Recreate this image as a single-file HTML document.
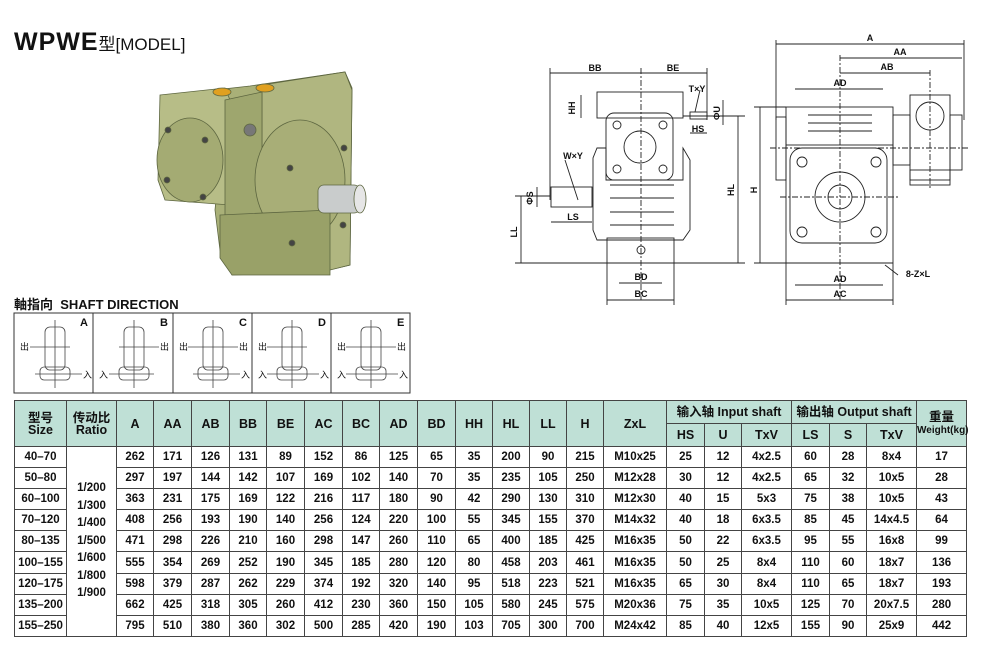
<!DOCTYPE html>
<html><head><meta charset="utf-8">
<style>
body{margin:0;width:988px;height:662px;background:#fff;position:relative;overflow:hidden;font-family:"Liberation Sans","Noto Sans CJK SC",sans-serif;color:#111}
.title{position:absolute;left:14px;top:28px;white-space:nowrap}
.title b{font-size:25px;font-weight:bold;letter-spacing:1px}
.title span{font-size:17px}
.sd{position:absolute;left:14px;top:294px;font-size:13px;font-weight:bold}
table{position:absolute;left:14px;top:400px;border-collapse:collapse;table-layout:fixed;width:952px}
td{border:1.5px solid #444;text-align:center;font-size:11.5px;font-weight:bold;padding:0;line-height:12px}
tr.d{height:21.1px}
tr.h{height:23px}
tr.h td,tr.h2 td{background:#bfe0d6;font-size:12.5px}
tr.h2{height:23px}
.rat{font-size:11.5px;line-height:17.5px;vertical-align:middle}
</style></head><body>
<div class="title"><b>WPWE</b><span>型[MODEL]</span></div>

<svg style="position:absolute;left:0;top:0" width="988" height="400" xmlns="http://www.w3.org/2000/svg">
<g stroke="#5d6640" stroke-width="0.8">
<polygon points="225,110 215,90 250,86 345,72 352,88 350,265 320,272 232,275 220,250 215,210" fill="#a9b078"/>
<polygon points="160,95 225,88 230,100 230,205 165,200 158,180" fill="#b7bd87"/>
<polygon points="262,85 345,72 352,90 350,265 330,270 262,270" fill="#b0b680"/>
<polygon points="225,100 262,92 262,270 225,255" fill="#9ea66e"/>
<ellipse cx="190" cy="160" rx="33" ry="42" fill="#a4ab73"/>
<ellipse cx="300" cy="180" rx="45" ry="60" fill="#a8ae77"/>
<polygon points="220,215 330,210 330,275 232,275 220,258" fill="#99a168"/>
<rect x="318" y="185" width="42" height="28" rx="6" fill="#c9cccc"/>
<ellipse cx="360" cy="199" rx="6" ry="14" fill="#e6e6e6"/>
<ellipse cx="222" cy="92" rx="9" ry="4" fill="#e0a020"/>
<ellipse cx="265" cy="88" rx="9" ry="4" fill="#e0a020"/>
<circle cx="250" cy="130" r="6" fill="#777"/>
<circle cx="168" cy="130" r="3" fill="#444"/><circle cx="205" cy="140" r="3" fill="#444"/><circle cx="167" cy="180" r="3" fill="#444"/><circle cx="203" cy="197" r="3" fill="#444"/>
<circle cx="290" cy="168" r="3" fill="#444"/><circle cx="344" cy="148" r="3" fill="#444"/><circle cx="292" cy="243" r="3" fill="#444"/><circle cx="343" cy="225" r="3" fill="#444"/>
</g>
<g fill="none" stroke="#222" stroke-width="0.9">
<line x1="550" y1="73" x2="707" y2="73"/><line x1="550" y1="68" x2="550" y2="200"/><line x1="707" y1="68" x2="707" y2="120"/><line x1="641" y1="68" x2="641" y2="300" stroke-dasharray="6,2,2,2"/>
<rect x="597" y="92" width="86" height="26"/>
<rect x="606" y="113" width="67" height="67" rx="8"/>
<circle cx="640" cy="147" r="16"/><circle cx="617" cy="125" r="4"/><circle cx="663" cy="125" r="4"/><circle cx="617" cy="169" r="4"/><circle cx="663" cy="169" r="4"/>
<polygon points="597,148 606,148 606,180 683,180 683,148 690,160 690,230 683,240 597,240 593,230 593,158"/>
<line x1="610" y1="185" x2="674" y2="185"/><line x1="610" y1="198" x2="674" y2="198"/><line x1="610" y1="212" x2="674" y2="212"/><line x1="610" y1="225" x2="674" y2="225"/>
<rect x="607" y="238" width="67" height="25"/><circle cx="641" cy="250" r="4"/>
<rect x="551" y="187" width="41" height="20"/>
<rect x="690" y="112" width="17" height="7"/>
<line x1="515" y1="263" x2="745" y2="263"/>
<line x1="738" y1="116" x2="738" y2="263"/><line x1="683" y1="116" x2="745" y2="116"/>
<line x1="521" y1="196" x2="521" y2="263"/><line x1="515" y1="196" x2="550" y2="196"/>
<line x1="551" y1="222" x2="592" y2="222"/><line x1="537" y1="187" x2="537" y2="207"/>
<line x1="619" y1="283" x2="662" y2="283"/><line x1="607" y1="300" x2="674" y2="300"/>
<line x1="607" y1="263" x2="607" y2="305"/><line x1="674" y1="263" x2="674" y2="305"/>
<line x1="581" y1="95" x2="581" y2="118"/><line x1="723" y1="100" x2="723" y2="125"/>
<line x1="690" y1="133" x2="707" y2="133"/>
<line x1="565" y1="160" x2="578" y2="200"/><line x1="700" y1="90" x2="695" y2="112"/>
</g>
<g font-size="9" font-weight="bold" fill="#111" text-anchor="middle">
<text x="595" y="71">BB</text><text x="673" y="71">BE</text><text x="575" y="108" transform="rotate(-90 575 108)">HH</text>
<text x="697" y="92">T×Y</text><text x="720" y="113" transform="rotate(-90 720 113)">ΦU</text><text x="698" y="132">HS</text>
<text x="573" y="159">W×Y</text><text x="734" y="190" transform="rotate(-90 734 190)">HL</text>
<text x="533" y="198" transform="rotate(-90 533 198)">ΦS</text><text x="573" y="220">LS</text>
<text x="517" y="232" transform="rotate(-90 517 232)">LL</text>
<text x="641" y="280">BD</text><text x="641" y="297">BC</text>
</g>
<g fill="none" stroke="#222" stroke-width="0.9">
<line x1="776" y1="44" x2="964" y2="44"/><line x1="776" y1="40" x2="776" y2="120"/><line x1="964" y1="40" x2="964" y2="120"/>
<line x1="840" y1="58" x2="962" y2="58"/><line x1="840" y1="73" x2="930" y2="73"/><line x1="840" y1="55" x2="840" y2="300" stroke-dasharray="6,2,2,2"/>
<line x1="795" y1="89" x2="883" y2="89"/><line x1="930" y1="70" x2="930" y2="190" stroke-dasharray="6,2,2,2"/>
<rect x="786" y="107" width="107" height="38"/>
<rect x="776" y="117" width="10" height="63"/>
<rect x="790" y="148" width="97" height="95" rx="12"/>
<circle cx="840" cy="197" r="25"/><circle cx="840" cy="197" r="12"/>
<circle cx="802" cy="162" r="5"/><circle cx="876" cy="162" r="5"/><circle cx="802" cy="232" r="5"/><circle cx="876" cy="232" r="5"/>
<line x1="786" y1="145" x2="786" y2="263"/><line x1="893" y1="145" x2="893" y2="263"/><line x1="786" y1="263" x2="893" y2="263"/>
<line x1="808" y1="115" x2="872" y2="115"/><line x1="808" y1="123" x2="872" y2="123"/><line x1="808" y1="131" x2="872" y2="131"/>
<rect x="910" y="95" width="40" height="85"/><rect x="893" y="115" width="17" height="50"/><rect x="950" y="115" width="12" height="55"/>
<circle cx="930" cy="116" r="14"/><rect x="910" y="170" width="40" height="15"/>
<line x1="760" y1="107" x2="760" y2="263"/><line x1="754" y1="107" x2="786" y2="107"/><line x1="754" y1="263" x2="786" y2="263"/>
<line x1="795" y1="285" x2="883" y2="285"/><line x1="786" y1="300" x2="893" y2="300"/>
<line x1="786" y1="263" x2="786" y2="305"/><line x1="893" y1="263" x2="893" y2="305"/>
<line x1="770" y1="148" x2="970" y2="148" stroke-dasharray="6,2,2,2"/><line x1="780" y1="197" x2="900" y2="197" stroke-dasharray="6,2,2,2"/>
<line x1="885" y1="265" x2="898" y2="275"/>
</g>
<g font-size="9" font-weight="bold" fill="#111" text-anchor="middle">
<text x="870" y="41">A</text><text x="900" y="55">AA</text><text x="887" y="70">AB</text><text x="840" y="86">AD</text>
<text x="757" y="190" transform="rotate(-90 757 190)">H</text>
<text x="840" y="282">AD</text><text x="840" y="297">AC</text><text x="918" y="277">8-Z×L</text>
</g>
<rect x="14" y="313" width="396" height="80" fill="none" stroke="#333" stroke-width="1"/>
<g stroke="#333" stroke-width="1"><line x1="93" y1="313" x2="93" y2="393"/><line x1="173" y1="313" x2="173" y2="393"/><line x1="252" y1="313" x2="252" y2="393"/><line x1="331" y1="313" x2="331" y2="393"/></g>
<g font-size="11" font-weight="bold" fill="#111">
<text x="80" y="326">A</text><text x="160" y="326">B</text><text x="239" y="326">C</text><text x="318" y="326">D</text><text x="397" y="326">E</text>
</g>
<g fill="none" stroke="#444" stroke-width="0.8">
<g><rect x="45" y="327" width="20" height="43" rx="5"/><rect x="40" y="367" width="30" height="13" rx="4"/><line x1="55" y1="320" x2="55" y2="388"/><line x1="30" y1="347" x2="70" y2="347"/><line x1="35" y1="374" x2="82" y2="374"/></g>
<g transform="translate(79,0)"><rect x="45" y="327" width="20" height="43" rx="5"/><rect x="40" y="367" width="30" height="13" rx="4"/><line x1="55" y1="320" x2="55" y2="388"/><line x1="40" y1="347" x2="80" y2="347"/><line x1="30" y1="374" x2="75" y2="374"/></g>
<g transform="translate(158,0)"><rect x="45" y="327" width="20" height="43" rx="5"/><rect x="40" y="367" width="30" height="13" rx="4"/><line x1="55" y1="320" x2="55" y2="388"/><line x1="30" y1="347" x2="80" y2="347"/><line x1="35" y1="374" x2="82" y2="374"/></g>
<g transform="translate(237,0)"><rect x="45" y="327" width="20" height="43" rx="5"/><rect x="40" y="367" width="30" height="13" rx="4"/><line x1="55" y1="320" x2="55" y2="388"/><line x1="30" y1="347" x2="70" y2="347"/><line x1="30" y1="374" x2="82" y2="374"/></g>
<g transform="translate(316,0)"><rect x="45" y="327" width="20" height="43" rx="5"/><rect x="40" y="367" width="30" height="13" rx="4"/><line x1="55" y1="320" x2="55" y2="388"/><line x1="30" y1="347" x2="80" y2="347"/><line x1="30" y1="374" x2="82" y2="374"/></g>
</g>
<g font-size="9" fill="#111">
<text x="20" y="350">出</text><text x="83" y="378">入</text>
<text x="160" y="350">出</text><text x="99" y="378">入</text>
<text x="179" y="350">出</text><text x="239" y="350">出</text><text x="241" y="378">入</text>
<text x="258" y="350">出</text><text x="258" y="378">入</text><text x="320" y="378">入</text>
<text x="337" y="350">出</text><text x="397" y="350">出</text><text x="337" y="378">入</text><text x="399" y="378">入</text>
</g>
</svg>
<div class="sd">軸指向 &nbsp;SHAFT DIRECTION</div>

<table>
<colgroup><col style="width:52px"><col style="width:50px"><col style="width:37px"><col style="width:38px"><col style="width:38px"><col style="width:37px"><col style="width:38px"><col style="width:38px"><col style="width:37px"><col style="width:38px"><col style="width:38px"><col style="width:37px"><col style="width:37px"><col style="width:37px"><col style="width:37px"><col style="width:63px"><col style="width:38px"><col style="width:37px"><col style="width:50px"><col style="width:38px"><col style="width:37px"><col style="width:50px"><col style="width:50px"></colgroup>
<tr class="h"><td rowspan="2">型号<br>Size</td><td rowspan="2">传动比<br>Ratio</td><td rowspan="2">A</td><td rowspan="2">AA</td><td rowspan="2">AB</td><td rowspan="2">BB</td><td rowspan="2">BE</td><td rowspan="2">AC</td><td rowspan="2">BC</td><td rowspan="2">AD</td><td rowspan="2">BD</td><td rowspan="2">HH</td><td rowspan="2">HL</td><td rowspan="2">LL</td><td rowspan="2">H</td><td rowspan="2">ZxL</td><td colspan="3">输入轴 Input shaft</td><td colspan="3">输出轴 Output shaft</td><td rowspan="2">重量<br><span style="font-size:10px">Weight(kg)</span></td></tr>
<tr class="h2"><td>HS</td><td>U</td><td>TxV</td><td>LS</td><td>S</td><td>TxV</td></tr>
<tr class="d"><td>40–70</td><td rowspan="9" class="rat">1/200<br>1/300<br>1/400<br>1/500<br>1/600<br>1/800<br>1/900</td><td>262</td><td>171</td><td>126</td><td>131</td><td>89</td><td>152</td><td>86</td><td>125</td><td>65</td><td>35</td><td>200</td><td>90</td><td>215</td><td>M10x25</td><td>25</td><td>12</td><td>4x2.5</td><td>60</td><td>28</td><td>8x4</td><td>17</td></tr>
<tr class="d"><td>50–80</td><td>297</td><td>197</td><td>144</td><td>142</td><td>107</td><td>169</td><td>102</td><td>140</td><td>70</td><td>35</td><td>235</td><td>105</td><td>250</td><td>M12x28</td><td>30</td><td>12</td><td>4x2.5</td><td>65</td><td>32</td><td>10x5</td><td>28</td></tr>
<tr class="d"><td>60–100</td><td>363</td><td>231</td><td>175</td><td>169</td><td>122</td><td>216</td><td>117</td><td>180</td><td>90</td><td>42</td><td>290</td><td>130</td><td>310</td><td>M12x30</td><td>40</td><td>15</td><td>5x3</td><td>75</td><td>38</td><td>10x5</td><td>43</td></tr>
<tr class="d"><td>70–120</td><td>408</td><td>256</td><td>193</td><td>190</td><td>140</td><td>256</td><td>124</td><td>220</td><td>100</td><td>55</td><td>345</td><td>155</td><td>370</td><td>M14x32</td><td>40</td><td>18</td><td>6x3.5</td><td>85</td><td>45</td><td>14x4.5</td><td>64</td></tr>
<tr class="d"><td>80–135</td><td>471</td><td>298</td><td>226</td><td>210</td><td>160</td><td>298</td><td>147</td><td>260</td><td>110</td><td>65</td><td>400</td><td>185</td><td>425</td><td>M16x35</td><td>50</td><td>22</td><td>6x3.5</td><td>95</td><td>55</td><td>16x8</td><td>99</td></tr>
<tr class="d"><td>100–155</td><td>555</td><td>354</td><td>269</td><td>252</td><td>190</td><td>345</td><td>185</td><td>280</td><td>120</td><td>80</td><td>458</td><td>203</td><td>461</td><td>M16x35</td><td>50</td><td>25</td><td>8x4</td><td>110</td><td>60</td><td>18x7</td><td>136</td></tr>
<tr class="d"><td>120–175</td><td>598</td><td>379</td><td>287</td><td>262</td><td>229</td><td>374</td><td>192</td><td>320</td><td>140</td><td>95</td><td>518</td><td>223</td><td>521</td><td>M16x35</td><td>65</td><td>30</td><td>8x4</td><td>110</td><td>65</td><td>18x7</td><td>193</td></tr>
<tr class="d"><td>135–200</td><td>662</td><td>425</td><td>318</td><td>305</td><td>260</td><td>412</td><td>230</td><td>360</td><td>150</td><td>105</td><td>580</td><td>245</td><td>575</td><td>M20x36</td><td>75</td><td>35</td><td>10x5</td><td>125</td><td>70</td><td>20x7.5</td><td>280</td></tr>
<tr class="d"><td>155–250</td><td>795</td><td>510</td><td>380</td><td>360</td><td>302</td><td>500</td><td>285</td><td>420</td><td>190</td><td>103</td><td>705</td><td>300</td><td>700</td><td>M24x42</td><td>85</td><td>40</td><td>12x5</td><td>155</td><td>90</td><td>25x9</td><td>442</td></tr>
</table>
</body></html>
